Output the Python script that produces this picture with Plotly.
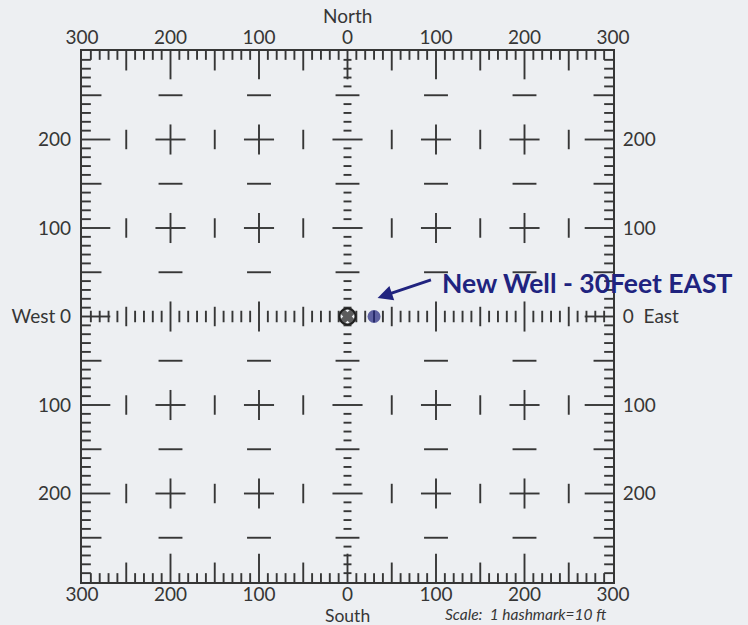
import plotly.graph_objects as go

# ---------------- data ----------------
x_ticks = [-300, -200, -100, 0, 100, 200, 300]
x_tick_labels = ["300", "200", "100", "0", "100", "200", "300"]
y_ticks = [-200, -100, 0, 100, 200]
left_tick_labels = ["200", "100", "West 0", "100", "200"]
right_tick_labels = ["200", "100", "0  East", "100", "200"]
well_names = ["Existing well", "New well"]
well_x = [0, 30]
well_y = [0, 0]
note_text = "New Well - 30Feet EAST"
scale_text = "Scale:  1 hashmark=10 ft"

# ---------------- grid construction ----------------
EXT = 300
HASH = 10

xs, ys = [], []


def add(x0, y0, x1, y1):
    xs.extend([x0, x1, None])
    ys.extend([y0, y1, None])


def edge_len(p):
    if p % 100 == 0:
        return 32
    if p % 50 == 0:
        return 22
    return 10


for p in range(-EXT + HASH, EXT, HASH):
    L = edge_len(p)
    add(p, EXT, p, EXT - L)      # top
    add(p, -EXT, p, -EXT + L)    # bottom
    add(-EXT, p, -EXT + L, p)    # left
    add(EXT, p, EXT - L, p)      # right

# center column (x=0) and center row (y=0) rulers
for p in range(-EXT + HASH, EXT, HASH):
    if p == 0:
        continue
    w = 17 if p % 100 == 0 else (13.5 if p % 50 == 0 else 4.5)
    add(-w, p, w, p)
    h = 17 if p % 100 == 0 else (11 if p % 50 == 0 else 6.5)
    add(p, -h, p, h)

# interior marks
for gx in range(-250, 300, 50):
    for gy in range(-250, 300, 50):
        if gx == 0 or gy == 0:
            continue
        if gx % 100 == 0 and gy % 100 == 0:
            add(gx - 17, gy, gx + 17, gy)
            add(gx, gy - 17, gx, gy + 17)
        elif gy % 100 == 0:
            add(gx, gy - 11, gx, gy + 11)
        elif gx % 100 == 0:
            add(gx - 13.5, gy, gx + 13.5, gy)

INK = "#363636"
BLUE = "#20237f"
BG = "#edeff2"
FONT = "Lato, sans-serif"

fig = go.Figure()
fig.add_trace(go.Scatter(x=xs, y=ys, mode="lines",
                         line=dict(color=INK, width=1.9),
                         hoverinfo="skip", showlegend=False))

# existing well (X in circle) and new well (blue dot)
fig.add_trace(go.Scatter(x=well_x[:1], y=well_y[:1], mode="markers",
                         marker=dict(symbol="circle-open", size=16,
                                     color="#1e1e1e",
                                     line=dict(color="#1e1e1e", width=2)),
                         hoverinfo="skip", showlegend=False))
fig.add_trace(go.Scatter(x=well_x, y=well_y, mode="markers", text=well_names,
                         marker=dict(symbol=["x", "circle"], size=[15, 13],
                                     color=["#1e1e1e", BLUE],
                                     line=dict(width=0)),
                         showlegend=False))
# invisible trace to activate top/right axes
fig.add_trace(go.Scatter(x=well_x, y=well_y, mode="markers", opacity=0,
                         xaxis="x2", yaxis="y2", hoverinfo="skip",
                         showlegend=False))

tickfont = dict(family=FONT, size=19, color=INK)
common = dict(range=[-EXT, EXT], showgrid=False, zeroline=False,
              tickfont=tickfont, fixedrange=True)

fig.update_layout(
    width=748, height=625,
    margin=dict(l=80, r=135, t=51, b=43),
    paper_bgcolor=BG, plot_bgcolor=BG,
    xaxis=dict(**common, tickvals=x_ticks, ticktext=x_tick_labels,
               ticks="", ticklabelstandoff=-6,
               showline=True, mirror=True, linewidth=2.2, linecolor=INK),
    yaxis=dict(**common, tickvals=y_ticks, ticktext=left_tick_labels,
               ticks="outside", ticklen=5, tickcolor="rgba(0,0,0,0)",
               showline=True, mirror=True, linewidth=2.2, linecolor=INK),
    xaxis2=dict(**common, tickvals=x_ticks, ticktext=x_tick_labels,
                ticks="", ticklabelstandoff=2,
                overlaying="x", side="top", showline=False),
    yaxis2=dict(**common, tickvals=y_ticks, ticktext=right_tick_labels,
                ticks="outside", ticklen=5, tickcolor="rgba(0,0,0,0)",
                overlaying="y", side="right", showline=False),
)

fig.add_annotation(x=0, y=1, xref="x", yref="paper", text="North",
                   showarrow=False, yanchor="bottom", yshift=22,
                   font=dict(family=FONT, size=19, color=INK))
fig.add_annotation(x=0, y=0, xref="x", yref="paper", text="South",
                   showarrow=False, yanchor="top", yshift=-21,
                   font=dict(family=FONT, size=17.5, color=INK))
fig.add_annotation(x=201, y=0, xref="x", yref="paper", text=scale_text,
                   showarrow=False, yanchor="top", yshift=-21,
                   font=dict(family=FONT, size=15.5, color=INK, style="italic"))

# handwritten note with arrow
fig.add_annotation(x=34, y=21, xref="x", yref="y", ax=96, ay=42,
                   axref="x", ayref="y", text="", showarrow=True,
                   arrowhead=2, arrowsize=1, arrowwidth=3, arrowcolor=BLUE)
fig.add_annotation(x=104, y=38, xref="x", yref="y", text="<b>" + note_text + "</b>",
                   showarrow=False, xanchor="left", yanchor="middle",
                   font=dict(family=FONT, size=26.5, color=BLUE))

fig.write_html(
    "out.html",
    config={"displayModeBar": False},
    post_script=(
        "document.body.style.margin='0';"
        "document.body.style.overflow='hidden';"
        "document.body.style.background='" + BG + "';"
    ),
)
